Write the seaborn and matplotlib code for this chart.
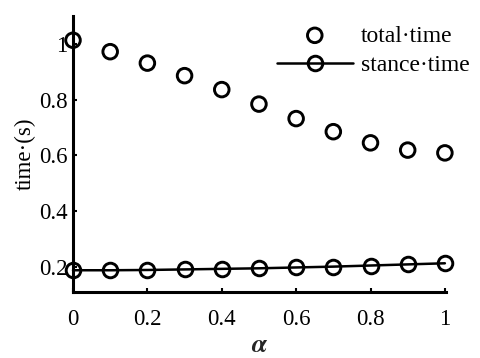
import matplotlib
matplotlib.use("Agg")
import matplotlib.pyplot as plt
import seaborn as sns
import pandas as pd

alpha = [0.0, 0.1, 0.2, 0.3, 0.4, 0.5, 0.6, 0.7, 0.8, 0.9, 1.0]
total_time = [1.013, 0.972, 0.931, 0.886, 0.836, 0.784, 0.732, 0.685, 0.645, 0.619, 0.609]
stance_time = [0.188, 0.188, 0.189, 0.191, 0.193, 0.195, 0.198, 0.201, 0.205, 0.209, 0.213]
xticks = [0, 0.2, 0.4, 0.6, 0.8, 1.0]
xticklabels = ["0", "0.2", "0.4", "0.6", "0.8", "1"]
yticks = [0.2, 0.4, 0.6, 0.8, 1.0]
yticklabels = ["0.2", "0.4", "0.6", "0.8", "1"]

sns.set_theme(style="white")
plt.rcParams["font.family"] = ["Liberation Serif", "DejaVu Serif"]
plt.rcParams["mathtext.fontset"] = "stix"

df = pd.DataFrame({"alpha": alpha, "total": total_time, "stance": stance_time})

fig = plt.figure(figsize=(4.81, 3.58), dpi=100)
ax = fig.add_axes([73 / 481, 1 - 292 / 358, (446 - 73) / 481, (292 - 16) / 358])

sns.scatterplot(data=df, x="alpha", y="total", ax=ax, marker="o", s=110,
                facecolors="none", edgecolor="black", linewidth=2.1,
                label="total·time", clip_on=False, zorder=3)
sns.lineplot(data=df, x="alpha", y="stance", ax=ax, color="black", linewidth=1.8,
             marker="o", markersize=10.5, markerfacecolor="none",
             markeredgecolor="black", markeredgewidth=2.1,
             label="stance·time", clip_on=False, zorder=3)

ax.set_xlim(0, 1.003)
ax.set_ylim(0.11, 1.10)
ax.set_xticks(xticks)
ax.set_xticklabels(xticklabels)
ax.set_yticks(yticks)
ax.set_yticklabels(yticklabels)
ax.tick_params(axis="both", direction="in", length=3, width=1.5, color="black",
               labelsize=16.5, labelcolor="black", pad=4, bottom=True, left=True)
ax.tick_params(axis="x", pad=12)
for side in ["top", "right"]:
    ax.spines[side].set_visible(False)
for side in ["left", "bottom"]:
    ax.spines[side].set_color("black")
    ax.spines[side].set_linewidth(2.2)

ax.set_xlabel(r"$\boldsymbol{\alpha}$", fontsize=19, labelpad=4)
ax.set_ylabel("time·(s)", fontsize=16.5, labelpad=2, color="black")

leg = ax.legend(loc="upper left", bbox_to_anchor=(277 / 481, 1 - 25 / 358),
                bbox_transform=fig.transFigure, frameon=False,
                fontsize=17, handlelength=3.2, handletextpad=0.35,
                labelspacing=0.33, borderaxespad=0, borderpad=0)
for t in leg.get_texts():
    t.set_color("black")

fig.savefig("out.png", dpi=100)
